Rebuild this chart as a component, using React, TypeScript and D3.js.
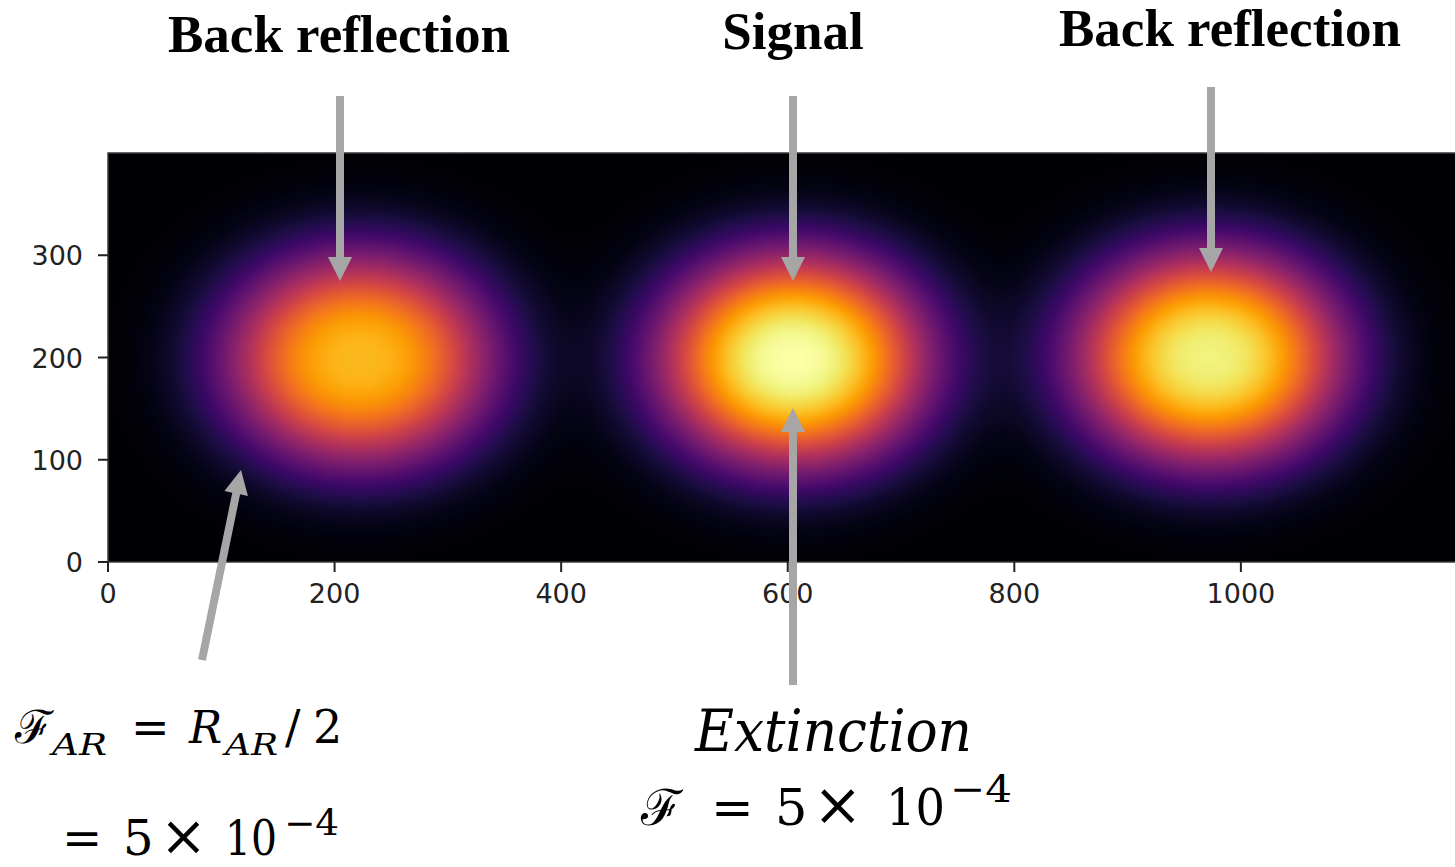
import React, { useMemo } from 'react';
import * as d3 from 'd3';

// beam spots (in image-grid units)
const spotNames = ['Back reflection', 'Signal', 'Back reflection'];
const spotX = [222, 605, 972];
const spotY = [198, 198, 200];
const spotPeak = [0.84, 1.0, 0.96];
const spotWidthX = [120, 120, 120];
const spotWidthY = [106, 106, 106];
const spotOrder = 2.6;

const xTicks = [0, 200, 400, 600, 800, 1000];
const yTicks = [0, 100, 200, 300];
const xExtent = [0, 1189];
const yExtent = [0, 400];

const W = 1455;
const H = 867;
const plot = { left: 108, right: 1455, top: 153, bottom: 562 };

const arrowGrey = '#a6a6a6';
const mathFont = '"DejaVu Serif", "Liberation Serif", serif';

// arrow outline: shaft + triangular head, tip at (x2,y2)
function arrowPath(x1: number, y1: number, x2: number, y2: number) {
  const shaft = 4, head = 12, headLen = 24;
  const dx = x2 - x1, dy = y2 - y1;
  const len = Math.hypot(dx, dy);
  const ux = dx / len, uy = dy / len;
  const nx = -uy, ny = ux;
  const bx = x2 - ux * headLen, by = y2 - uy * headLen;
  const p = [
    [x1 + nx * shaft, y1 + ny * shaft],
    [bx + nx * shaft, by + ny * shaft],
    [bx + nx * head, by + ny * head],
    [x2, y2],
    [bx - nx * head, by - ny * head],
    [bx - nx * shaft, by - ny * shaft],
    [x1 - nx * shaft, y1 - ny * shaft],
  ];
  return 'M' + p.map(d => d.join(',')).join('L') + 'Z';
}

export default function App() {
  const x = d3.scaleLinear().domain(xExtent).range([plot.left, plot.right]);
  const y = d3.scaleLinear().domain(yExtent).range([plot.bottom, plot.top]);
  const color = d3.scaleSequential(d3.interpolateInferno).domain([0, 1]);

  const imgUrl = useMemo(() => {
    const w = plot.right - plot.left;
    const h = plot.bottom - plot.top;
    const canvas = document.createElement('canvas');
    canvas.width = w;
    canvas.height = h;
    const ctx = canvas.getContext('2d');
    if (!ctx) return '';
    const img = ctx.createImageData(w, h);
    const lut = d3.range(256).map(i => d3.rgb(color(i / 255)));
    for (let j = 0; j < h; j++) {
      const vy = y.invert(plot.top + j + 0.5);
      for (let i = 0; i < w; i++) {
        const vx = x.invert(plot.left + i + 0.5);
        let v = 0;
        for (let k = 0; k < spotX.length; k++) {
          const a = (vx - spotX[k]) / spotWidthX[k];
          const b = (vy - spotY[k]) / spotWidthY[k];
          v += spotPeak[k] * Math.exp(-Math.pow(a * a + b * b, spotOrder / 2));
        }
        const c = lut[Math.max(0, Math.min(255, Math.round(v * 255)))];
        const o = (j * w + i) * 4;
        img.data[o] = c.r;
        img.data[o + 1] = c.g;
        img.data[o + 2] = c.b;
        img.data[o + 3] = 255;
      }
    }
    ctx.putImageData(img, 0, 0);
    return canvas.toDataURL();
  }, []);

  const titles = [
    { x: 339, y: 52 },
    { x: 793, y: 49 },
    { x: 1230, y: 46 },
  ];

  const arrows = [
    { x1: 340, y1: 96, x2: 340, y2: 281 },
    { x1: 793, y1: 96, x2: 793, y2: 281 },
    { x1: 1211, y1: 87, x2: 1211, y2: 272 },
    { x1: 793, y1: 685, x2: 793, y2: 408 },
    { x1: 202, y1: 660, x2: 241, y2: 470 },
  ];

  type Piece = { t: string; x: number; y: number; s: number; it?: boolean; len?: number };
  const math: Piece[] = [
    // F_AR = R_AR/2
    { t: 'ℱ', x: 15, y: 743, s: 46 },
    { t: 'AR', x: 52, y: 755, s: 30, it: true, len: 55 },
    { t: '=', x: 131, y: 743, s: 46 },
    { t: 'R', x: 189, y: 743, s: 44, it: true },
    { t: 'AR', x: 225, y: 755, s: 30, it: true, len: 53 },
    { t: '/', x: 285, y: 743, s: 46 },
    { t: '2', x: 313, y: 743, s: 46 },
    // = 5 x 10^-4 (second line sits on the bottom edge)
    { t: '=', x: 62, y: 855, s: 48 },
    { t: '5', x: 123, y: 855, s: 48 },
    { t: '×', x: 160, y: 855, s: 56 },
    { t: '10', x: 225, y: 855, s: 48, len: 52 },
    { t: '−4', x: 284, y: 835, s: 35, len: 55 },
    // Extinction
    { t: 'Extinction', x: 695, y: 751, s: 58, it: true, len: 277 },
    // F = 5 x 10^-4
    { t: 'ℱ', x: 641, y: 825, s: 50 },
    { t: '=', x: 711, y: 825, s: 51 },
    { t: '5', x: 775, y: 825, s: 51 },
    { t: '×', x: 813, y: 825, s: 59 },
    { t: '10', x: 886, y: 825, s: 51, len: 59 },
    { t: '−4', x: 950, y: 802, s: 38, len: 62 },
  ];

  return (
    <svg
      width={W}
      height={H}
      style={{ position: 'absolute', left: 0, top: 0, background: '#fff' }}
    >
      <image
        href={imgUrl}
        x={plot.left}
        y={plot.top}
        width={plot.right - plot.left}
        height={plot.bottom - plot.top}
        preserveAspectRatio="none"
      />
      {/* spines */}
      <path
        d={`M${plot.right},${plot.top}H${plot.left}V${plot.bottom}H${plot.right}`}
        fill="none"
        stroke="#3a3a3a"
        strokeWidth={1.5}
      />
      {/* ticks */}
      {xTicks.map(t => (
        <g key={'x' + t} transform={`translate(${x(t)},${plot.bottom})`}>
          <line y2={10} stroke="#222" strokeWidth={2} />
          <text
            y={41}
            textAnchor="middle"
            fontFamily='"DejaVu Sans", sans-serif'
            fontSize={27}
            fill="#222"
          >
            {t}
          </text>
        </g>
      ))}
      {yTicks.map(t => (
        <g key={'y' + t} transform={`translate(${plot.left},${y(t)})`}>
          <line x2={-10} stroke="#222" strokeWidth={2} />
          <text
            x={-25}
            y={10}
            textAnchor="end"
            fontFamily='"DejaVu Sans", sans-serif'
            fontSize={27}
            fill="#222"
          >
            {t}
          </text>
        </g>
      ))}
      {/* annotation arrows */}
      {arrows.map((a, i) => (
        <path key={'a' + i} d={arrowPath(a.x1, a.y1, a.x2, a.y2)} fill={arrowGrey} />
      ))}
      {/* spot titles */}
      {spotNames.map((n, i) => (
        <text
          key={'t' + i}
          x={titles[i].x}
          y={titles[i].y}
          textAnchor="middle"
          fontFamily='"Liberation Serif", "Times New Roman", serif'
          fontWeight="bold"
          fontSize={53}
          fill="#000"
        >
          {n}
        </text>
      ))}
      {/* formulas */}
      {math.map((m, i) => (
        <text
          key={'m' + i}
          x={m.x}
          y={m.y}
          fontFamily={mathFont}
          fontStyle={m.it ? 'italic' : 'normal'}
          fontSize={m.s}
          fill="#000"
          textLength={m.len}
          lengthAdjust={m.len ? 'spacingAndGlyphs' : undefined}
        >
          {m.t}
        </text>
      ))}
    </svg>
  );
}
